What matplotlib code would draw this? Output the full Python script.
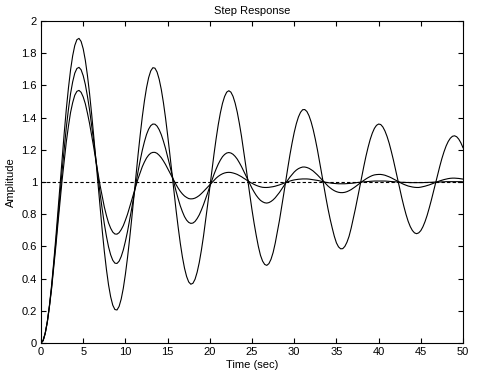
import matplotlib
matplotlib.use('Agg')
from matplotlib import pyplot as plt

plt.rcParams['font.family'] = ['Liberation Sans', 'DejaVu Sans']

# время, с (шаг 0.25)
time_s = [
    0.0, 0.25, 0.5, 0.75, 1.0, 1.25, 1.5, 1.75, 2.0, 2.25,
    2.5, 2.75, 3.0, 3.25, 3.5, 3.75, 4.0, 4.25, 4.5, 4.75,
    5.0, 5.25, 5.5, 5.75, 6.0, 6.25, 6.5, 6.75, 7.0, 7.25,
    7.5, 7.75, 8.0, 8.25, 8.5, 8.75, 9.0, 9.25, 9.5, 9.75,
    10.0, 10.25, 10.5, 10.75, 11.0, 11.25, 11.5, 11.75, 12.0, 12.25,
    12.5, 12.75, 13.0, 13.25, 13.5, 13.75, 14.0, 14.25, 14.5, 14.75,
    15.0, 15.25, 15.5, 15.75, 16.0, 16.25, 16.5, 16.75, 17.0, 17.25,
    17.5, 17.75, 18.0, 18.25, 18.5, 18.75, 19.0, 19.25, 19.5, 19.75,
    20.0, 20.25, 20.5, 20.75, 21.0, 21.25, 21.5, 21.75, 22.0, 22.25,
    22.5, 22.75, 23.0, 23.25, 23.5, 23.75, 24.0, 24.25, 24.5, 24.75,
    25.0, 25.25, 25.5, 25.75, 26.0, 26.25, 26.5, 26.75, 27.0, 27.25,
    27.5, 27.75, 28.0, 28.25, 28.5, 28.75, 29.0, 29.25, 29.5, 29.75,
    30.0, 30.25, 30.5, 30.75, 31.0, 31.25, 31.5, 31.75, 32.0, 32.25,
    32.5, 32.75, 33.0, 33.25, 33.5, 33.75, 34.0, 34.25, 34.5, 34.75,
    35.0, 35.25, 35.5, 35.75, 36.0, 36.25, 36.5, 36.75, 37.0, 37.25,
    37.5, 37.75, 38.0, 38.25, 38.5, 38.75, 39.0, 39.25, 39.5, 39.75,
    40.0, 40.25, 40.5, 40.75, 41.0, 41.25, 41.5, 41.75, 42.0, 42.25,
    42.5, 42.75, 43.0, 43.25, 43.5, 43.75, 44.0, 44.25, 44.5, 44.75,
    45.0, 45.25, 45.5, 45.75, 46.0, 46.25, 46.5, 46.75, 47.0, 47.25,
    47.5, 47.75, 48.0, 48.25, 48.5, 48.75, 49.0, 49.25, 49.5, 49.75,
    50.0,
]

# слабое затухание
resp_low = [
    0.000, 0.015, 0.061, 0.135, 0.235, 0.357, 0.499, 0.652, 0.816, 0.981,
    1.147, 1.305, 1.454, 1.584, 1.696, 1.784, 1.848, 1.884, 1.892, 1.873,
    1.827, 1.756, 1.662, 1.550, 1.421, 1.282, 1.135, 0.987, 0.839, 0.700,
    0.570, 0.457, 0.361, 0.287, 0.235, 0.208, 0.205, 0.227, 0.273, 0.340,
    0.428, 0.531, 0.648, 0.774, 0.907, 1.039, 1.170, 1.292, 1.405, 1.503,
    1.585, 1.648, 1.690, 1.710, 1.707, 1.683, 1.638, 1.575, 1.494, 1.399,
    1.292, 1.179, 1.060, 0.942, 0.826, 0.719, 0.620, 0.535, 0.465, 0.413,
    0.379, 0.365, 0.371, 0.396, 0.440, 0.500, 0.576, 0.663, 0.760, 0.862,
    0.968, 1.073, 1.175, 1.270, 1.356, 1.429, 1.488, 1.531, 1.558, 1.567,
    1.558, 1.532, 1.490, 1.434, 1.364, 1.285, 1.197, 1.105, 1.010, 0.917,
    0.826, 0.743, 0.668, 0.600, 0.545, 0.509, 0.488, 0.482, 0.493, 0.520,
    0.562, 0.620, 0.689, 0.761, 0.841, 0.923, 1.008, 1.091, 1.171, 1.243,
    1.308, 1.362, 1.404, 1.433, 1.449, 1.450, 1.438, 1.412, 1.374, 1.325,
    1.266, 1.200, 1.128, 1.053, 0.977, 0.904, 0.834, 0.771, 0.715, 0.663,
    0.622, 0.597, 0.585, 0.586, 0.600, 0.626, 0.663, 0.714, 0.774, 0.834,
    0.899, 0.965, 1.033, 1.098, 1.160, 1.215, 1.264, 1.303, 1.333, 1.352,
    1.360, 1.357, 1.342, 1.317, 1.283, 1.241, 1.191, 1.137, 1.078, 1.019,
    0.959, 0.901, 0.847, 0.798, 0.756, 0.723, 0.699, 0.684, 0.679, 0.684,
    0.698, 0.722, 0.754, 0.793, 0.839, 0.888, 0.941, 0.994, 1.047, 1.098,
    1.146, 1.188, 1.224, 1.252, 1.272, 1.284, 1.287, 1.281, 1.266, 1.243,
    1.213,
]

# среднее затухание
resp_mid = [
    0.000, 0.015, 0.061, 0.132, 0.230, 0.345, 0.480, 0.621, 0.773, 0.921,
    1.071, 1.209, 1.341, 1.452, 1.549, 1.622, 1.676, 1.705, 1.712, 1.697,
    1.660, 1.606, 1.533, 1.449, 1.351, 1.250, 1.141, 1.035, 0.928, 0.831,
    0.740, 0.663, 0.597, 0.548, 0.514, 0.496, 0.494, 0.508, 0.537, 0.578,
    0.632, 0.693, 0.764, 0.837, 0.916, 0.991, 1.066, 1.134, 1.197, 1.250,
    1.295, 1.328, 1.350, 1.360, 1.359, 1.347, 1.325, 1.294, 1.254, 1.209,
    1.157, 1.105, 1.049, 0.996, 0.943, 0.896, 0.852, 0.816, 0.785, 0.763,
    0.749, 0.743, 0.745, 0.755, 0.773, 0.796, 0.826, 0.859, 0.896, 0.933,
    0.973, 1.011, 1.048, 1.081, 1.111, 1.136, 1.157, 1.171, 1.180, 1.183,
    1.180, 1.172, 1.159, 1.142, 1.120, 1.096, 1.069, 1.042, 1.014, 0.987,
    0.961, 0.938, 0.917, 0.900, 0.886, 0.877, 0.871, 0.869, 0.872, 0.879,
    0.889, 0.902, 0.918, 0.935, 0.955, 0.974, 0.994, 1.013, 1.031, 1.047,
    1.062, 1.074, 1.083, 1.089, 1.093, 1.093, 1.090, 1.085, 1.077, 1.068,
    1.056, 1.044, 1.030, 1.016, 1.001, 0.988, 0.975, 0.964, 0.954, 0.946,
    0.940, 0.936, 0.934, 0.934, 0.936, 0.940, 0.946, 0.953, 0.962, 0.971,
    0.981, 0.991, 1.001, 1.010, 1.019, 1.027, 1.034, 1.040, 1.044, 1.046,
    1.047, 1.047, 1.045, 1.042, 1.037, 1.032, 1.026, 1.019, 1.012, 1.005,
    0.998, 0.991, 0.985, 0.980, 0.975, 0.972, 0.969, 0.967, 0.966, 0.966,
    0.968, 0.971, 0.974, 0.978, 0.982, 0.987, 0.992, 0.997, 1.002, 1.007,
    1.011, 1.015, 1.018, 1.021, 1.023, 1.024, 1.024, 1.023, 1.022, 1.020,
    1.018,
]

# сильное затухание
resp_high = [
    0.000, 0.015, 0.061, 0.130, 0.227, 0.336, 0.466, 0.597, 0.740, 0.874,
    1.012, 1.134, 1.251, 1.347, 1.432, 1.493, 1.539, 1.563, 1.569, 1.557,
    1.528, 1.486, 1.428, 1.364, 1.289, 1.214, 1.132, 1.056, 0.978, 0.910,
    0.845, 0.792, 0.746, 0.713, 0.689, 0.677, 0.676, 0.685, 0.704, 0.729,
    0.763, 0.800, 0.844, 0.887, 0.934, 0.977, 1.021, 1.059, 1.095, 1.124,
    1.149, 1.167, 1.179, 1.184, 1.184, 1.178, 1.166, 1.151, 1.131, 1.109,
    1.084, 1.059, 1.033, 1.009, 0.984, 0.962, 0.942, 0.926, 0.913, 0.904,
    0.897, 0.895, 0.896, 0.900, 0.907, 0.916, 0.928, 0.941, 0.955, 0.969,
    0.984, 0.998, 1.012, 1.024, 1.035, 1.044, 1.051, 1.056, 1.059, 1.060,
    1.059, 1.056, 1.052, 1.047, 1.040, 1.033, 1.024, 1.016, 1.007, 0.999,
    0.992, 0.985, 0.979, 0.974, 0.970, 0.967, 0.966, 0.966, 0.967, 0.969,
    0.971, 0.974, 0.978, 0.982, 0.987, 0.992, 0.997, 1.002, 1.006, 1.010,
    1.013, 1.015, 1.017, 1.018, 1.019, 1.019, 1.019, 1.018, 1.016, 1.014,
    1.012, 1.010, 1.007, 1.004, 1.001, 0.998, 0.996, 0.994, 0.992, 0.991,
    0.990, 0.989, 0.989, 0.989, 0.989, 0.990, 0.991, 0.992, 0.993, 0.995,
    0.997, 0.998, 1.000, 1.001, 1.002, 1.003, 1.004, 1.005, 1.006, 1.006,
    1.006, 1.006, 1.006, 1.006, 1.005, 1.004, 1.003, 1.002, 1.001, 1.000,
    0.999, 0.998, 0.998, 0.997, 0.997, 0.996, 0.996, 0.996, 0.996, 0.996,
    0.996, 0.996, 0.997, 0.997, 0.998, 0.998, 0.999, 1.000, 1.000, 1.000,
    1.001, 1.001, 1.002, 1.002, 1.002, 1.002, 1.002, 1.002, 1.002, 1.002,
    1.001,
]

x_ticks = [0, 5, 10, 15, 20, 25, 30, 35, 40, 45, 50]
y_ticks = [0, 0.2, 0.4, 0.6, 0.8, 1, 1.2, 1.4, 1.6, 1.8, 2]
y_labels = ['0', '0.2', '0.4', '0.6', '0.8', '1', '1.2', '1.4', '1.6', '1.8', '2']

fig = plt.figure(figsize=(4.86, 3.84), dpi=100)
ax = fig.add_axes([0.0844, 0.1068, 0.8683, 0.8385])

ax.axhline(1.0, color='k', linestyle=(0, (3, 2)), linewidth=0.8)  # установившееся значение
for resp in (resp_low, resp_mid, resp_high):
    ax.plot(time_s, resp, color='k', linewidth=0.8)

ax.set_xlim(0, 50)
ax.set_ylim(0, 2)
ax.set_xticks(x_ticks)
ax.set_yticks(y_ticks)
ax.set_yticklabels(y_labels)
ax.tick_params(direction='in', length=3.6, width=0.8, top=True, right=True,
               labelsize=8, pad=3)
for sp in ax.spines.values():
    sp.set_linewidth(0.8)

ax.set_title('Step Response', fontsize=8, pad=5)
ax.set_xlabel('Time (sec)', fontsize=8, labelpad=2)
ax.set_ylabel('Amplitude', fontsize=8, labelpad=4)

fig.savefig('out.png', dpi=100)
